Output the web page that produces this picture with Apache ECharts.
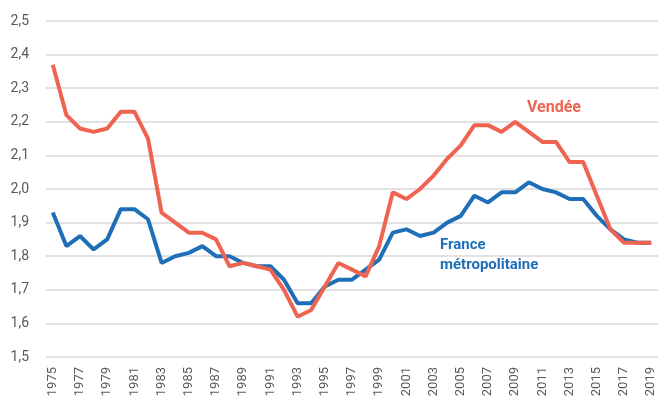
<!DOCTYPE html>
<html><head><meta charset="utf-8">
<script src="https://cdn.jsdelivr.net/npm/echarts@6/dist/echarts.min.js"></script>
<style>html,body{margin:0;padding:0;background:#fff}#c{width:658px;height:401px}</style>
</head><body><div id="c"></div>
<script>
const years = [];
for (let y = 1975; y <= 2019; y++) years.push(String(y));
const vendee = [2.37,2.22,2.18,2.17,2.18,2.23,2.23,2.15,1.93,1.90,1.87,1.87,1.85,1.77,1.78,1.77,1.76,1.70,1.62,1.64,1.71,1.78,1.76,1.74,1.83,1.99,1.97,2.00,2.04,2.09,2.13,2.19,2.19,2.17,2.20,2.17,2.14,2.14,2.08,2.08,1.98,1.88,1.84,1.84,1.84];
const france = [1.93,1.83,1.86,1.82,1.85,1.94,1.94,1.91,1.78,1.80,1.81,1.83,1.80,1.80,1.78,1.77,1.77,1.73,1.66,1.66,1.71,1.73,1.73,1.76,1.79,1.87,1.88,1.86,1.87,1.90,1.92,1.98,1.96,1.99,1.99,2.02,2.00,1.99,1.97,1.97,1.92,1.88,1.85,1.84,1.84];
const FONT = "'Roboto', sans-serif";
const chart = echarts.init(document.getElementById('c'));
chart.setOption({
  animation: false,
  grid: {left: 46, right: 0, top: 21, bottom: 44, containLabel: false},
  xAxis: {
    type: 'category', data: years, boundaryGap: true,
    axisLine: {show: false}, axisTick: {show: false},
    axisLabel: {rotate: 90, interval: 1, color: '#595959', fontSize: 13, fontFamily: FONT, margin: 10}
  },
  yAxis: {
    type: 'value', min: 1.5, max: 2.5, interval: 0.1,
    axisLine: {show: false}, axisTick: {show: false},
    splitLine: {lineStyle: {color: '#D9D9D9', width: 1.5}},
    axisLabel: {color: '#595959', fontSize: 14, fontFamily: FONT, margin: 17,
      formatter: v => v.toFixed(1).replace('.', ',')}
  },
  series: [
    {name: 'France métropolitaine', type: 'line', data: france, symbol: 'none',
     lineStyle: {color: '#1F6FB8', width: 4}, itemStyle: {color: '#1F6FB8'}},
    {name: 'Vendée', type: 'line', data: vendee, symbol: 'none',
     lineStyle: {color: '#EF6351', width: 4}, itemStyle: {color: '#EF6351'}}
  ],
  graphic: [
    {type: 'text', left: 527, top: 100, style: {text: 'Vendée', fill: '#EF6351', font: "bold 16px " + FONT}},
    {type: 'text', left: 440, top: 235, style: {text: 'France\nmétropolitaine', fill: '#1F6FB8', font: "bold 15px " + FONT, lineHeight: 20}}
  ]
});
</script></body></html>
